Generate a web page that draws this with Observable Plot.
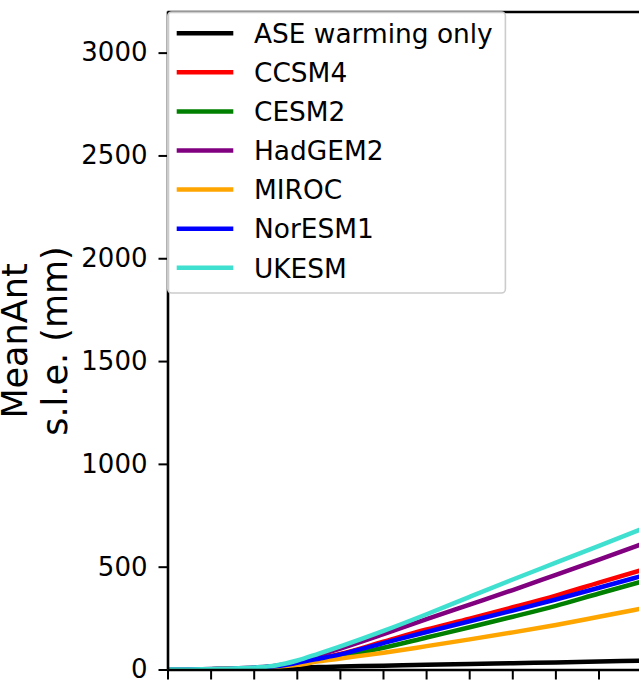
<!DOCTYPE html>
<html>
<head>
<meta charset="utf-8">
<script src="https://cdn.jsdelivr.net/npm/d3@7"></script>
<script src="https://cdn.jsdelivr.net/npm/@observablehq/plot@0.6"></script>
<style>
  html, body { margin: 0; padding: 0; background: #fff; }
  #chart { width: 639px; height: 682px; overflow: hidden; }
</style>
</head>
<body>
<div id="chart"></div>
<script>
// ---- data ----
const years = [2000, 2012.5, 2025, 2037.5, 2050, 2062.5, 2075, 2087.5, 2100, 2125, 2150, 2175, 2200, 2225, 2250, 2273.5];
const seriesNames = ["ASE warming only", "CCSM4", "CESM2", "HadGEM2", "MIROC", "NorESM1", "UKESM"];
const seriesColors = ["#000000", "#ff0000", "#008000", "#800080", "#ffa500", "#0000ff", "#40e0d0"];
const aseWarmingOnly = [1, 1, 2, 3, 5, 8, 11, 14, 17, 21, 26, 29, 33, 37, 41, 45];
const ccsm4   = [1, 2, 4, 6, 10, 18, 35, 57, 78, 138, 197, 250, 305, 362, 425, 483];
const cesm2   = [1, 2, 4, 6, 9, 16, 30, 48, 65, 108, 158, 208, 259, 312, 372, 427];
const hadgem2 = [2, 3, 5, 7, 12, 21, 41, 72, 104, 174, 247, 318, 389, 463, 537, 608];
const miroc   = [1, 2, 4, 6, 9, 15, 25, 42, 56, 84, 116, 149, 183, 219, 259, 297];
const noresm1 = [1, 2, 4, 6, 10, 18, 35, 55, 76, 131, 185, 237, 289, 343, 400, 454];
const ukesm   = [2, 3, 5, 7, 12, 22, 46, 80, 115, 190, 271, 356, 440, 522, 604, 681];
const yTicks = [0, 500, 1000, 1500, 2000, 2500, 3000];
const xTicks = [2000, 2025, 2050, 2075, 2100, 2125, 2150, 2175, 2200, 2225, 2250];
const yLabel = "MeanAnt\ns.l.e. (mm)";

const seriesValues = [aseWarmingOnly, ccsm4, cesm2, hadgem2, miroc, noresm1, ukesm];
const rows = seriesNames.flatMap((name, i) =>
  years.map((year, j) => ({series: name, year, value: seriesValues[i][j]}))
);

const xDomain = [2000, 2273.5];
const yDomain = [0, 3200];

const plot = Plot.plot({
  width: 639,
  height: 682,
  marginLeft: 167.5,
  marginRight: 0,
  marginTop: 11.5,
  marginBottom: 12.5,
  style: {fontFamily: "'DejaVu Sans', sans-serif", fontSize: "26px", color: "#000", background: "#fff", overflow: "visible"},
  x: {domain: xDomain},
  y: {domain: yDomain},
  color: {domain: seriesNames, range: seriesColors},
  marks: [
    Plot.axisY(yTicks, {anchor: "left", tickSize: 9, tickPadding: 11.5, strokeWidth: 2, fontSize: 26, tickFormat: d => String(d), label: null}),
    Plot.axisX(xTicks, {anchor: "bottom", tickSize: 10, strokeWidth: 2, tickFormat: () => "", label: null}),
    Plot.line(rows, {x: "year", y: "value", z: "series", stroke: "series", strokeWidth: 4.5, curve: "monotone-x", clip: true}),
    Plot.ruleX([xDomain[0]], {stroke: "#000", strokeWidth: 2.6}),
    Plot.ruleY([yDomain[0]], {stroke: "#000", strokeWidth: 2.6}),
    Plot.ruleY([yDomain[1]], {stroke: "#000", strokeWidth: 2.6}),
    Plot.text([yLabel], {frameAnchor: "left", text: d => d, rotate: -90, dx: -134, fontSize: 35, lineHeight: 1.15, textAnchor: "middle", lineAnchor: "middle", fill: "#000"})
  ]
});

document.getElementById("chart").appendChild(plot);

// ---- legend inside the axes (upper left) ----
const svg = d3.select(plot);
const lg = svg.append("g")
  .attr("font-family", "'DejaVu Sans', sans-serif")
  .attr("font-size", 26.4)
  .attr("text-anchor", "start");
lg.append("rect")
  .attr("x", 167.8).attr("y", 12).attr("width", 337.6).attr("height", 281)
  .attr("rx", 4).attr("ry", 4)
  .attr("fill", "#fff").attr("fill-opacity", 0.8)
  .attr("stroke", "#cccccc").attr("stroke-width", 1.6);
seriesNames.forEach((name, i) => {
  const cy = 33.3 + i * 39.07;
  lg.append("line")
    .attr("x1", 176.7).attr("x2", 233.3).attr("y1", cy).attr("y2", cy)
    .attr("stroke", seriesColors[i]).attr("stroke-width", 4.5);
  lg.append("text")
    .attr("x", 254).attr("y", cy + 9.8)
    .attr("text-anchor", "start")
    .attr("fill", "#000")
    .text(name);
});
</script>
</body>
</html>
